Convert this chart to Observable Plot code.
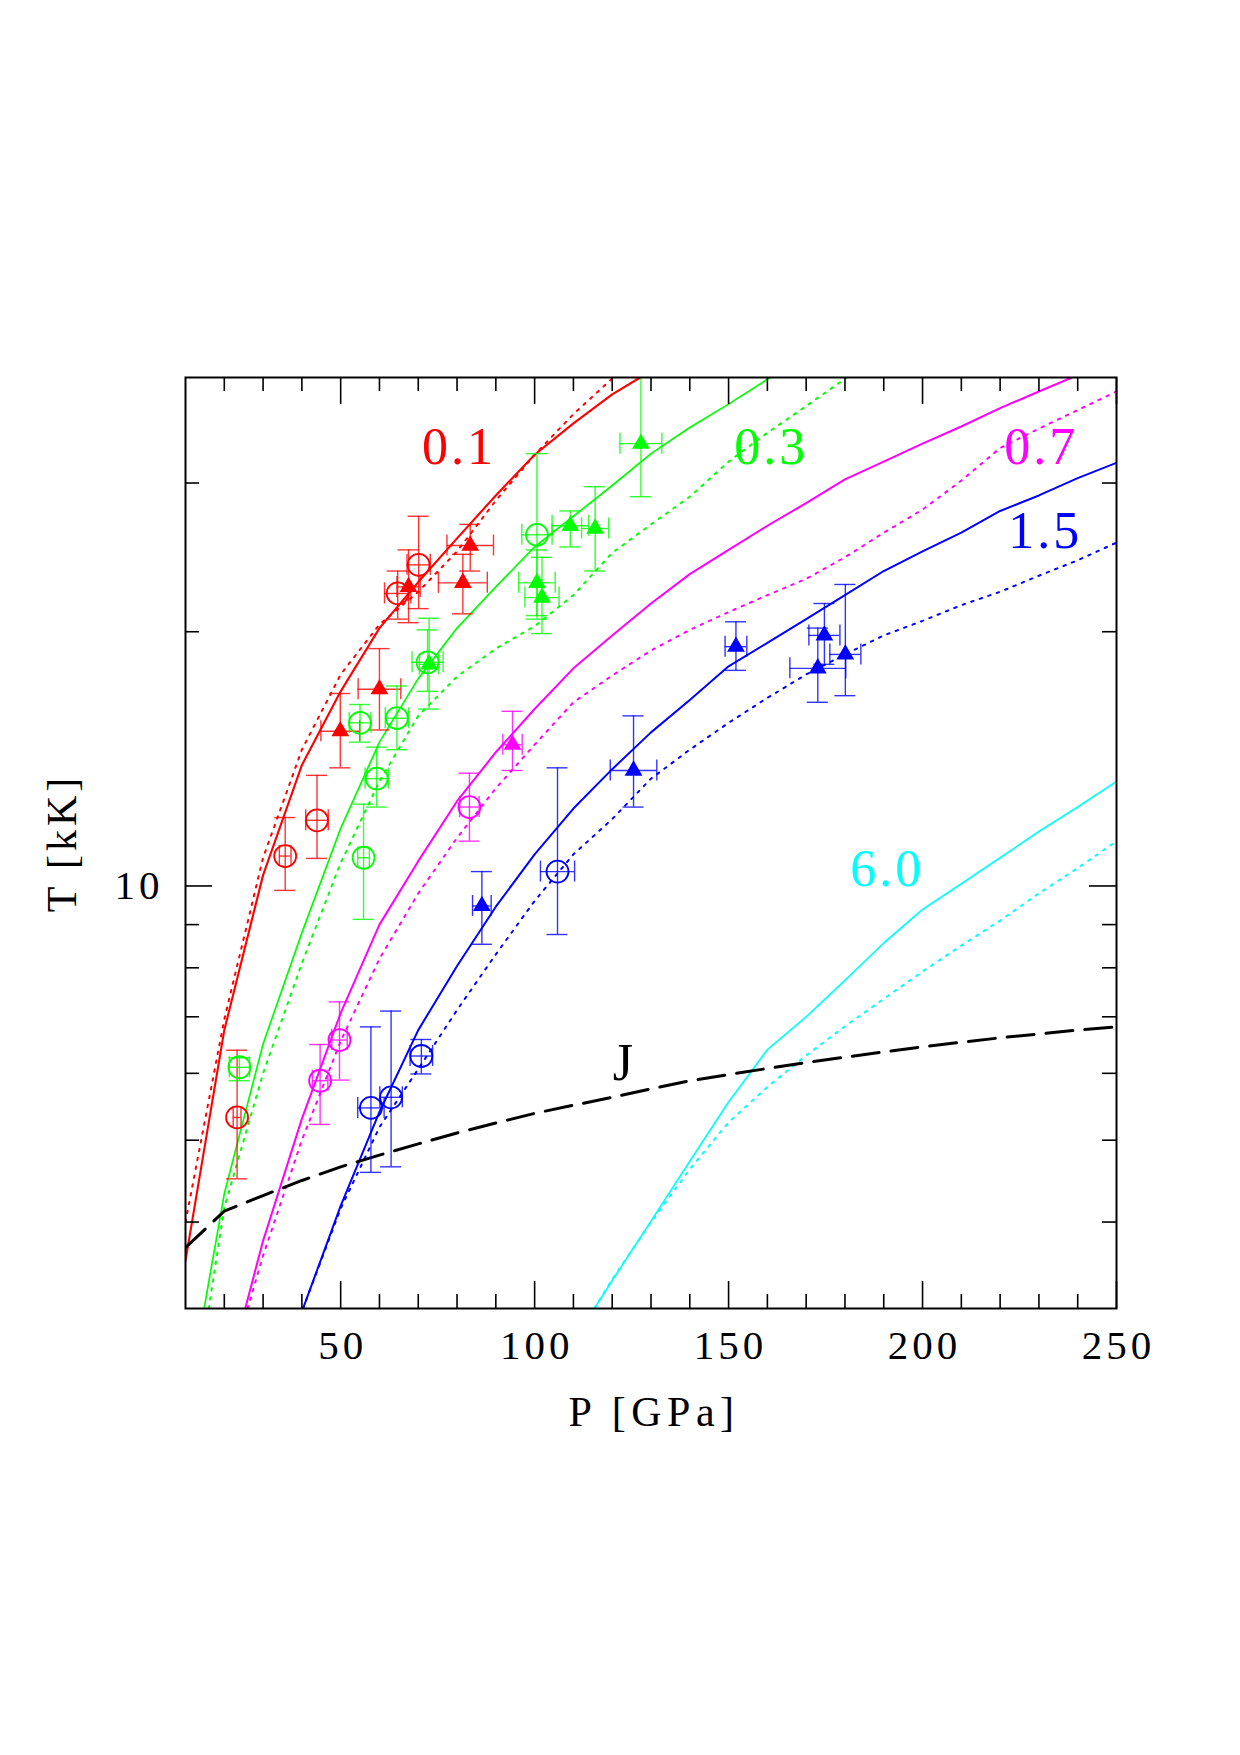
<!DOCTYPE html>
<html><head><meta charset="utf-8">
<script src="https://cdn.jsdelivr.net/npm/d3@7"></script>
<script src="https://cdn.jsdelivr.net/npm/@observablehq/plot@0.6"></script>
<style>body{margin:0;background:#fff}</style>
</head><body><div id="chart"></div>
<script>
// ---------- axis ticks ----------
const xTicksMajor = [50, 100, 150, 200, 250];
const xTicksMinor = [20, 30, 40, 60, 70, 80, 90, 110, 120, 130, 140, 160, 170, 180, 190, 210, 220, 230, 240];
const yTicksMajor = [10];
const yTicksMinor = [4, 5, 6, 7, 8, 9, 20, 30];
const xLabel = "P [GPa]";
const yLabel = "T [kK]";

// ---------- model curves [P (GPa), T (kK)] ----------
const red01Solid = [[10,3.6],[20,6.75],[30,10.3],[40,13.9],[50,17.0],[60,20.2],[70,22.9],[80,25.8],[90,29.0],[100,32.4],[110,35.3],[120,38.2],[127.2,40]];
const red01Dotted = [[10,4.0],[20,6.95],[30,10.8],[40,14.5],[50,17.8],[60,20.4],[70,22.3],[80,24.9],[90,28.6],[100,32.4],[110,36.2],[120.3,40]];
const green03Solid = [[14.8,3.16],[20,4.32],[30,6.5],[40,8.8],[50,11.7],[60,14.8],[70,17.6],[80,20.2],[90,22.6],[100,25.2],[110,27.4],[120,29.8],[130,32.5],[140,34.9],[150,37.2],[160.7,40]];
const green03Dotted = [[16,3.16],[20,4.16],[30,6.0],[40,8.1],[50,10.65],[60,13.3],[70,15.9],[80,17.7],[90,19.1],[100,20.3],[110,22.1],[120,24.8],[130,26.8],[140,28.9],[150,31.8],[160,34.4],[170,37.0],[180.5,40]];
const magenta07Solid = [[25.4,3.16],[30,3.8],[40,5.3],[50,7.07],[60,9.0],[70,10.7],[80,12.6],[90,14.4],[100,16.2],[110,18.1],[120,19.8],[130,21.6],[140,23.4],[150,25.0],[160,26.7],[170,28.4],[180,30.3],[190,31.8],[200,33.4],[210,35.0],[220,36.8],[230,38.5],[238.5,40]];
const magenta07Dotted = [[26,3.16],[30,3.65],[40,5.0],[50,6.55],[60,8.2],[70,9.8],[80,11.4],[90,13.05],[100,14.7],[110,16.5],[120,17.75],[130,19.0],[140,20.1],[150,21.1],[160,22.1],[170,23.1],[180,24.5],[190,26.2],[200,27.9],[210,30.2],[220,33.0],[230,34.8],[240,36.6],[250,38.5]];
const blue15Solid = [[40.3,3.16],[50,4.18],[60,5.4],[70,6.75],[80,8.04],[90,9.45],[100,10.9],[110,12.35],[120,13.75],[130,15.2],[140,16.6],[150,18.2],[160,19.4],[170,20.7],[180,22.1],[190,23.6],[200,24.9],[210,26.2],[220,27.8],[230,29.0],[240,30.4],[250,31.7]];
const blue15Dotted = [[40.3,3.16],[50,4.15],[60,5.18],[70,6.07],[80,7.13],[90,8.3],[100,9.6],[110,10.9],[120,12.0],[130,13.4],[140,14.5],[150,15.6],[160,16.7],[170,17.8],[180,18.8],[190,19.8],[200,20.6],[210,21.5],[220,22.3],[230,23.3],[240,24.3],[250,25.5]];
const cyan60Solid = [[115.4,3.16],[120,3.41],[130,4.01],[140,4.72],[150,5.55],[160,6.4],[170,7.0],[180,7.73],[190,8.56],[200,9.38],[210,10.06],[220,10.8],[230,11.6],[240,12.4],[250,13.3]];
const cyan60Dotted = [[115.4,3.16],[120,3.42],[130,4.0],[140,4.62],[150,5.25],[160,5.78],[170,6.3],[180,6.82],[190,7.35],[200,7.92],[210,8.5],[220,9.1],[230,9.8],[240,10.5],[250,11.3]];
const jupiterLine = [[10,3.73],[20,4.12],[30,4.3],[40,4.48],[50,4.65],[60,4.8],[70,4.95],[80,5.1],[90,5.24],[100,5.38],[110,5.5],[120,5.62],[130,5.75],[140,5.88],[150,5.98],[160,6.08],[170,6.18],[180,6.27],[190,6.36],[200,6.45],[210,6.53],[220,6.61],[230,6.68],[240,6.75],[250,6.81]];

// ---------- measurements [P, dP, T, Tlow, Thigh] ----------
const redCircles = [[23.3,1.0,5.32,4.5,6.39],[35.7,1.5,10.85,9.88,12.05],[43.9,2.9,11.96,10.78,13.52],[64.7,3.4,22.2,20.7,23.6],[70.1,3.0,24.0,21.3,27.4]];
const redTriangles = [[49.9,5.0,15.25,13.8,16.9],[60.0,5.5,17.1,15.3,19.1],[67.5,3.0,22.6,20.5,25.0],[81.5,6.3,22.85,21.0,24.7],[83.4,6.0,25.3,23.6,26.8]];
const greenCircles = [[23.9,2.6,6.1,5.88,6.26],[55.9,1.5,10.8,9.13,12.5],[59.3,3.0,13.4,12.4,14.6],[55.0,2.8,15.6,14.8,16.4],[64.5,3.0,15.8,14.5,17.25],[72.4,4.0,18.4,17.0,20.1],[100.6,3.9,26.05,20.9,32.5]];
const greenTriangles = [[72.8,2.5,18.3,16.2,20.75],[100.6,4.7,22.85,20.7,25.0],[101.9,4.4,21.95,19.9,24.5],[109.2,4.7,26.7,25.2,27.8],[115.6,3.5,26.5,23.6,29.7],[127.4,5.4,33.4,28.9,42]];
const magentaCircles = [[44.7,2.0,5.88,5.22,6.49],[49.7,2.0,6.57,5.89,7.29],[83.2,2.5,12.4,11.3,13.6]];
const magentaTriangles = [[94.3,2.5,14.7,13.7,16.1]];
const blueCircles = [[57.8,3.4,5.46,4.58,6.81],[63.0,2.9,5.62,4.65,7.11],[70.8,2.9,6.29,5.99,6.58],[105.9,4.4,10.4,8.76,13.8]];
const blueTriangles = [[86.4,2.4,9.47,8.53,10.4],[125.5,6.0,13.7,12.4,15.9],[151.9,2.8,19.2,18.0,20.55],[173.0,7.2,18.1,16.5,20.2],[174.7,4.0,19.8,18.3,21.6],[180.1,4.0,18.8,16.8,22.75]];

// ---------- curve labels ----------
const curveLabels = [
  {text: "0.1", P: 80.0, T: 33.1, color: "#ff0000"},
  {text: "0.3", P: 160.5, T: 33.1, color: "#00ff00"},
  {text: "0.7", P: 230.1, T: 33.1, color: "#ff00ff"},
  {text: "1.5", P: 231.1, T: 26.3, color: "#0000ff"},
  {text: "6.0", P: 190.4, T: 10.45, color: "#00ffff"},
  {text: "J", P: 122.6, T: 6.16, color: "#000000"}
];

// ---------- build ----------
const W = 1240, H = 1755;
const mL = 185, mR = 124, mT = 377, mB = 447;
const plotW = W - mL - mR, plotH = H - mT - mB;
const curveRows = arr => arr.map(([P, T]) => ({P, T}));
const ptRows = arr => arr.map(([P, dP, T, Tlo, Thi]) => ({P, T, Plo: P - dP, Phi: P + dP, Tlo, Thi}));

const series = [
  {color: "#ff0000", solid: red01Solid, dotted: red01Dotted, circles: redCircles, triangles: redTriangles, w: 2.1},
  {color: "#00ff00", solid: green03Solid, dotted: green03Dotted, circles: greenCircles, triangles: greenTriangles, w: 1.7},
  {color: "#ff00ff", solid: magenta07Solid, dotted: magenta07Dotted, circles: magentaCircles, triangles: magentaTriangles, w: 2},
  {color: "#0000ff", solid: blue15Solid, dotted: blue15Dotted, circles: blueCircles, triangles: blueTriangles, w: 2},
  {color: "#00ffff", solid: cyan60Solid, dotted: cyan60Dotted, circles: [], triangles: [], w: 1.7}
];

const cap = 10.5;
const marks = [];
for (const s of series) {
  marks.push(Plot.line(curveRows(s.solid), {x: "P", y: "T", stroke: s.color, strokeWidth: s.w, clip: true}));
  marks.push(Plot.line(curveRows(s.dotted), {x: "P", y: "T", stroke: s.color, strokeWidth: 2, strokeDasharray: "2.5,6.5", clip: true}));
}
marks.push(Plot.line(curveRows(jupiterLine), {x: "P", y: "T", stroke: "black", strokeWidth: 3, strokeDasharray: "27,12", clip: true}));

for (const s of series) {
  const rows = ptRows([...s.circles, ...s.triangles]);
  if (!rows.length) continue;
  const eb = {stroke: s.color, strokeWidth: 1.4, strokeOpacity: 0.8, clip: true};
  marks.push(Plot.ruleX(rows, {x: "P", y1: "Tlo", y2: "Thi", ...eb}));
  marks.push(Plot.ruleY(rows, {y: "Thi", x1: "P", x2: "P", insetLeft: -cap, insetRight: -cap, ...eb}));
  marks.push(Plot.ruleY(rows, {y: "Tlo", x1: "P", x2: "P", insetLeft: -cap, insetRight: -cap, ...eb}));
  marks.push(Plot.ruleY(rows, {y: "T", x1: "Plo", x2: "Phi", ...eb}));
  marks.push(Plot.ruleX(rows, {x: "Plo", y1: "T", y2: "T", insetTop: -cap, insetBottom: -cap, ...eb}));
  marks.push(Plot.ruleX(rows, {x: "Phi", y1: "T", y2: "T", insetTop: -cap, insetBottom: -cap, ...eb}));
  marks.push(Plot.dot(ptRows(s.circles), {x: "P", y: "T", r: 11, stroke: s.color, strokeWidth: 1.8, fill: "none"}));
  marks.push(Plot.dot(ptRows(s.triangles), {x: "P", y: "T", r: 6.6, symbol: "triangle", fill: s.color, stroke: "none"}));
}

// curve labels
marks.push(Plot.text(curveLabels, {x: "P", y: "T", text: "text", fill: "color", fontSize: 52, lineAnchor: "middle", textAnchor: "middle", dx: 2, ariaDescription: "curvelabel"}));

// frame and inward ticks on all sides
const tk = {stroke: "black", strokeWidth: 1.6};
marks.push(Plot.tickX(xTicksMinor, {x: d => d, insetTop: plotH - 14, ...tk}));
marks.push(Plot.tickX(xTicksMinor, {x: d => d, insetBottom: plotH - 14, ...tk}));
marks.push(Plot.tickX(xTicksMajor, {x: d => d, insetTop: plotH - 27, ...tk}));
marks.push(Plot.tickX(xTicksMajor, {x: d => d, insetBottom: plotH - 27, ...tk}));
marks.push(Plot.tickY(yTicksMinor, {y: d => d, insetRight: plotW - 14, ...tk}));
marks.push(Plot.tickY(yTicksMinor, {y: d => d, insetLeft: plotW - 14, ...tk}));
marks.push(Plot.tickY(yTicksMajor, {y: d => d, insetRight: plotW - 27, ...tk}));
marks.push(Plot.tickY(yTicksMajor, {y: d => d, insetLeft: plotW - 27, ...tk}));
marks.push(Plot.frame({stroke: "black", strokeWidth: 2}));

// tick labels and axis titles
marks.push(Plot.text(xTicksMajor, {x: d => d, text: d => String(d), frameAnchor: "bottom", dy: 37, dx: 2, fontSize: 41, fill: "black", textAnchor: "middle", lineAnchor: "middle", ariaDescription: "ticklabel"}));
marks.push(Plot.text(yTicksMajor, {y: d => d, text: d => String(d), frameAnchor: "left", dx: -22, fontSize: 41, fill: "black", textAnchor: "end", lineAnchor: "middle", ariaDescription: "ticklabel"}));
marks.push(Plot.text([xLabel], {text: d => d, frameAnchor: "bottom", dy: 104, dx: 3, fontSize: 42, fill: "black", textAnchor: "middle", lineAnchor: "middle", ariaDescription: "axislabel"}));
marks.push(Plot.text([yLabel], {text: d => d, frameAnchor: "left", dx: -123, dy: 0, rotate: -90, fontSize: 42, fill: "black", textAnchor: "middle", lineAnchor: "middle", ariaDescription: "ylabel"}));

const chart = Plot.plot({
  width: W, height: H,
  marginLeft: mL, marginRight: mR, marginTop: mT, marginBottom: mB,
  x: {type: "linear", domain: [10, 250], axis: null},
  y: {type: "log", domain: [3.16, 40], axis: null},
  style: {fontFamily: "Liberation Serif", background: "white", overflow: "visible"},
  marks
});
// wider letter spacing, like the original plotting font
const sel = d3.select(chart);
sel.selectAll('[aria-description="ticklabel"] text').style("letter-spacing", "4px");
sel.selectAll('[aria-description="curvelabel"] text').style("letter-spacing", "3px");
sel.selectAll('[aria-description="axislabel"] text').style("letter-spacing", "5.5px");
sel.selectAll('[aria-description="ylabel"] text').style("letter-spacing", "4px");
document.getElementById("chart").appendChild(chart);
</script>
</body></html>
